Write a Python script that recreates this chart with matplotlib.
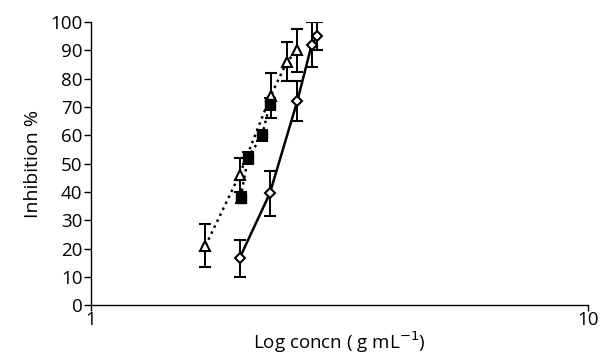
import numpy as np
import matplotlib.pyplot as plt
from matplotlib.ticker import FixedLocator, NullLocator

plt.rcParams['font.family'] = ['Open Sans', 'DejaVu Sans']

# diamonds, solid line
dia_x = [1.99, 2.29, 2.60, 2.78, 2.85]
dia_y = [16.5, 39.5, 72, 92, 95]
dia_err = [6.5, 8, 7, 8, 5]

# triangles, dotted line
tri_x = [1.70, 1.99, 2.30, 2.48, 2.60]
tri_y = [21, 46, 74, 86, 90]
tri_err = [7.5, 6, 8, 7, 7.5]

# filled squares, dotted line
sq_x = [2.00, 2.07, 2.21, 2.29]
sq_y = [38, 52, 60, 71]
sq_err = [2, 2, 2, 2]

fig = plt.figure(figsize=(6.02, 3.54), dpi=100)
ax = fig.add_axes([0.151, 0.138, 0.826, 0.800])

ax.errorbar(tri_x, tri_y, yerr=tri_err, fmt='^', ls=':', lw=1.8, color='black',
            mfc='white', mec='black', ms=7, mew=1.5, capsize=4.5, elinewidth=1.4,
            capthick=1.4, zorder=3)
ax.errorbar(sq_x, sq_y, yerr=sq_err, fmt='s', ls=':', lw=1.8, color='black',
            mfc='black', mec='black', ms=6.5, capsize=4.5, elinewidth=1.4,
            capthick=1.4, zorder=3)
ax.errorbar(dia_x, dia_y, yerr=dia_err, fmt='D', ls='-', lw=1.8, color='black',
            mfc='white', mec='black', ms=5, mew=1.5, capsize=4.5, elinewidth=1.4,
            capthick=1.4, zorder=4)

ax.set_xscale('log')
ax.set_xlim(1, 10)
ax.set_ylim(0, 100)
ax.xaxis.set_major_locator(FixedLocator([1, 10]))
ax.xaxis.set_minor_locator(NullLocator())
ax.set_xticklabels(['1', '10'])
ax.set_yticks(np.arange(0, 101, 10))

for s in ['top', 'right']:
    ax.spines[s].set_visible(False)
ax.spines['left'].set_linewidth(1.0)
ax.spines['bottom'].set_linewidth(1.0)
ax.tick_params(axis='y', labelsize=13.5, direction='out', length=5, width=1.0, pad=1)
ax.tick_params(axis='x', labelsize=13.5, direction='out', length=4, width=1.0, pad=0)

ax.set_ylabel('Inhibition %', fontsize=14, labelpad=6)
ax.set_xlabel('Log concn ( g mL$^{-1}$)', fontsize=13.5, va='bottom')
ax.xaxis.set_label_coords(0.5, -0.175)

fig.savefig('out.png', dpi=100)
